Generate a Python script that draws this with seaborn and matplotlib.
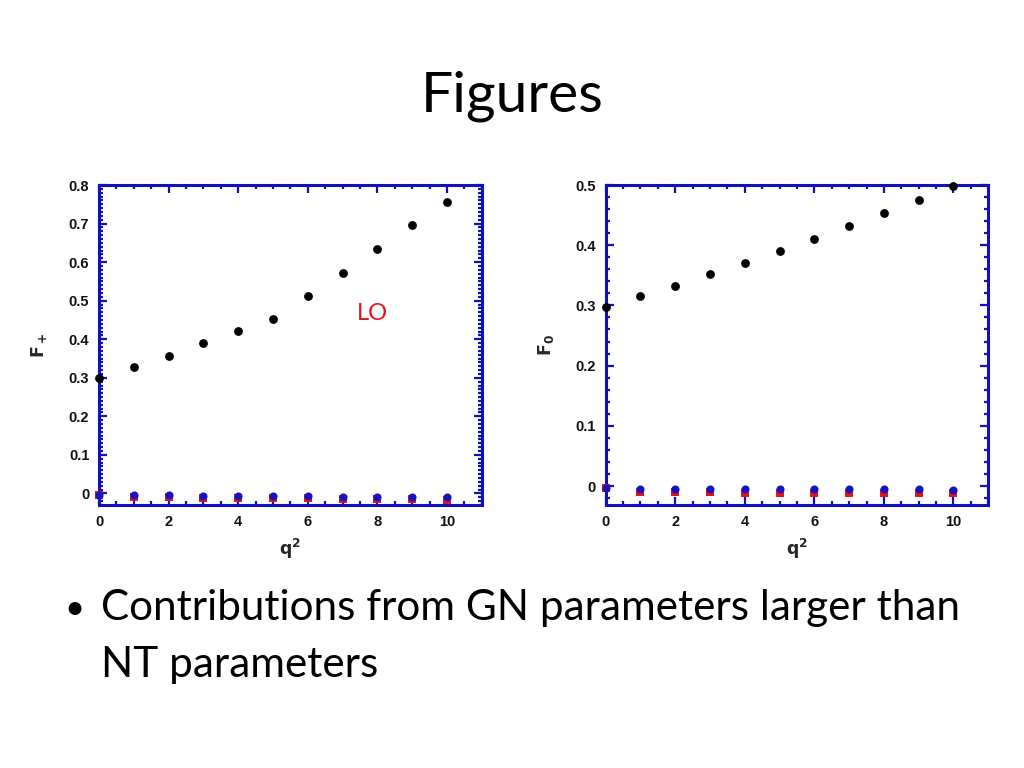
import matplotlib
matplotlib.use("Agg")
import matplotlib.pyplot as plt
from matplotlib.ticker import MultipleLocator
import seaborn as sns
import pandas as pd

# ---- data ----
q2 = [0, 1, 2, 3, 4, 5, 6, 7, 8, 9, 10]
fplus_lo = [0.299, 0.329, 0.357, 0.389, 0.421, 0.453, 0.512, 0.573, 0.635, 0.697, 0.757]
fplus_gn = [-0.003, -0.004, -0.005, -0.006, -0.006, -0.007, -0.007, -0.008, -0.008, -0.009, -0.009]
fplus_nt = [-0.004, -0.009, -0.010, -0.011, -0.012, -0.012, -0.013, -0.014, -0.014, -0.015, -0.016]

fzero_lo = [0.298, 0.316, 0.333, 0.352, 0.371, 0.390, 0.411, 0.432, 0.453, 0.475, 0.498]
fzero_gn = [-0.003, -0.005, -0.005, -0.005, -0.005, -0.005, -0.005, -0.005, -0.005, -0.005, -0.006]
fzero_nt = [-0.004, -0.010, -0.010, -0.010, -0.011, -0.011, -0.011, -0.011, -0.011, -0.011, -0.012]

x_ticks = [0, 2, 4, 6, 8, 10]
title = "Figures"
bullet_line1 = "Contributions from GN parameters larger than"
bullet_line2 = "NT parameters"

sns.set_style("white")
plt.rcParams["font.family"] = ["Liberation Sans", "DejaVu Sans"]

fig = plt.figure(figsize=(10.24, 7.68), dpi=100)
ax1 = fig.add_axes([0.0967, 0.3424, 0.3737, 0.4167])
ax2 = fig.add_axes([0.5915, 0.3424, 0.3736, 0.4167])

spine_c = "#1010c0"
slide_font = ["Lato", "DejaVu Sans"]


def draw(ax, lo, gn, nt, ylim, ymajor, yminor, ylabel):
    df_lo = pd.DataFrame({"q2": q2, "v": lo})
    df_gn = pd.DataFrame({"q2": q2, "v": gn})
    df_nt = pd.DataFrame({"q2": q2, "v": nt})
    sns.scatterplot(data=df_nt, x="q2", y="v", ax=ax, marker="s", color="#e8101c",
                    s=38, linewidth=0, zorder=3, clip_on=False)
    sns.scatterplot(data=df_gn, x="q2", y="v", ax=ax, marker="o", color="#1414c0",
                    s=34, linewidth=0, zorder=4, clip_on=False)
    sns.scatterplot(data=df_lo, x="q2", y="v", ax=ax, marker="o", color="black",
                    s=40, linewidth=0, zorder=5, clip_on=False)
    ax.set_xlim(0, 11)
    ax.set_ylim(*ylim)
    ax.set_xticks(x_ticks)
    ax.xaxis.set_minor_locator(MultipleLocator(0.5))
    ax.yaxis.set_major_locator(MultipleLocator(ymajor))
    ax.yaxis.set_minor_locator(MultipleLocator(yminor))
    ax.set_yticks([t for t in ax.get_yticks() if ylim[0] <= t <= ylim[1] + 1e-9])
    ax.set_yticklabels([("0" if abs(t) < 1e-9 else f"{t:.1f}") for t in ax.get_yticks()])
    ax.set_xticklabels([str(t) for t in x_ticks])
    for s in ax.spines.values():
        s.set_color(spine_c)
        s.set_linewidth(2.2)
    ax.tick_params(which="both", direction="in", top=True, right=True, left=True,
                   bottom=True, color=spine_c, width=1.6)
    ax.tick_params(which="major", length=6, labelsize=10.5, pad=7)
    ax.tick_params(which="minor", length=3)
    for lab in ax.get_xticklabels() + ax.get_yticklabels():
        lab.set_fontweight("bold")
        lab.set_color("#111111")
    ax.set_xlabel(r"$\mathbf{q^2}$", fontsize=12.5, labelpad=6)
    ax.set_ylabel(ylabel, fontsize=12.5, labelpad=14)
    ax.grid(False)


draw(ax1, fplus_lo, fplus_gn, fplus_nt, (-0.03, 0.8), 0.1, 0.01, r"$\mathbf{F_+}$")
draw(ax2, fzero_lo, fzero_gn, fzero_nt, (-0.0316, 0.5), 0.1, 0.02, r"$\mathbf{F_0}$")

ax1.text(7.86, 0.466, "LO", color="#e8101c", fontsize=17, family=slide_font,
         ha="center", va="center")

fig.text(0.5, 1 - 111 / 768, title, fontsize=41, ha="center", va="baseline",
         family=slide_font, color="black")
fig.text(0.0625, 1 - 619 / 768, "•", fontsize=25, ha="left", va="baseline",
         family=slide_font, color="black")
fig.text(0.0985, 1 - 620 / 768, bullet_line1, fontsize=30.4, ha="left", va="baseline",
         family=slide_font, color="black")
fig.text(0.0985, 1 - 677 / 768, bullet_line2, fontsize=30.4, ha="left", va="baseline",
         family=slide_font, color="black")

fig.savefig("out.png", dpi=100)
